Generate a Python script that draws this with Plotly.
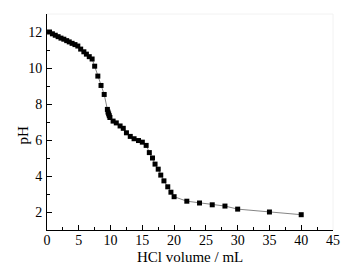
import plotly.graph_objects as go

hcl_volume = [0.4, 0.85, 1.3, 1.75, 2.2, 2.65, 3.1, 3.5, 3.95, 4.4, 4.85,
              5.3, 5.8, 6.2, 6.65, 7.1, 7.5, 8.0, 8.5, 9.0,
              9.5, 9.6, 9.7, 9.8, 9.9, 10.4, 10.9, 11.5, 12.0, 12.5,
              13.1, 13.7, 14.4, 15.0, 15.6, 16.1, 16.6, 17.0, 17.5, 17.9,
              18.4, 19.0, 19.5, 20.0, 22, 24, 26, 28, 30, 35, 40]
ph_values = [12.0, 11.9, 11.82, 11.74, 11.66, 11.6, 11.52, 11.45, 11.37, 11.3, 11.22,
             11.05, 10.9, 10.77, 10.63, 10.5, 10.1, 9.55, 9.03, 8.53,
             7.7, 7.55, 7.45, 7.35, 7.25, 7.05, 6.95, 6.78, 6.65, 6.4,
             6.2, 6.07, 5.97, 5.88, 5.7, 5.3, 5.0, 4.66, 4.38, 4.05,
             3.73, 3.4, 3.1, 2.85, 2.6, 2.5, 2.4, 2.33, 2.16, 2.0, 1.85]

x_ticks = [0, 5, 10, 15, 20, 25, 30, 35, 40, 45]
y_ticks = [2, 4, 6, 8, 10, 12]

font = "Liberation Serif, Times New Roman, serif"

fig = go.Figure()
fig.add_trace(go.Scatter(
    x=hcl_volume, y=ph_values, mode="lines+markers",
    line=dict(color="#666666", width=0.8),
    marker=dict(symbol="square", size=5, color="black"),
    showlegend=False,
))

fig.update_layout(
    width=356, height=263,
    margin=dict(l=39, r=31, t=6, b=41, pad=0),
    paper_bgcolor="white", plot_bgcolor="white",
    font=dict(family=font, size=14, color="black"),
    xaxis=dict(
        range=[0, 45], tickvals=x_ticks, ticktext=[str(v) for v in x_ticks],
        ticks="inside", ticklen=5, tickwidth=1, tickcolor="black",
        minor=dict(dtick=2.5, tick0=0, ticks="inside", ticklen=3, tickcolor="black"),
        showline=True, linecolor="black", linewidth=1, showgrid=False, zeroline=False,
        tickfont=dict(size=14), automargin=False, ticklabelstandoff=-3,
    ),
    yaxis=dict(
        range=[1, 13], tickvals=y_ticks, ticktext=[str(v) for v in y_ticks],
        ticks="inside", ticklen=5, tickwidth=1, tickcolor="black",
        minor=dict(dtick=1, tick0=0, ticks="inside", ticklen=3, tickcolor="black"),
        showline=True, linecolor="black", linewidth=1, showgrid=False, zeroline=False,
        tickfont=dict(size=14), automargin=False, ticklabelstandoff=1,
    ),
    shapes=[
        dict(type="line", xref="paper", yref="paper", x0=0, x1=1, y0=1, y1=1,
             line=dict(color="#f2f2f2", width=1)),
        dict(type="line", xref="paper", yref="paper", x0=1, x1=1, y0=0, y1=1,
             line=dict(color="#f2f2f2", width=1)),
    ],
    annotations=[
        dict(text="HCl volume / mL", xref="paper", yref="paper", x=0.5, y=-0.127,
             showarrow=False, font=dict(size=15, family=font),
             xanchor="center", yanchor="middle"),
        dict(text="pH", xref="paper", yref="paper", x=-0.087, y=0.4375,
             textangle=-90, showarrow=False, font=dict(size=15, family=font),
             xanchor="center", yanchor="middle"),
    ],
)

fig.write_html("out.html")
